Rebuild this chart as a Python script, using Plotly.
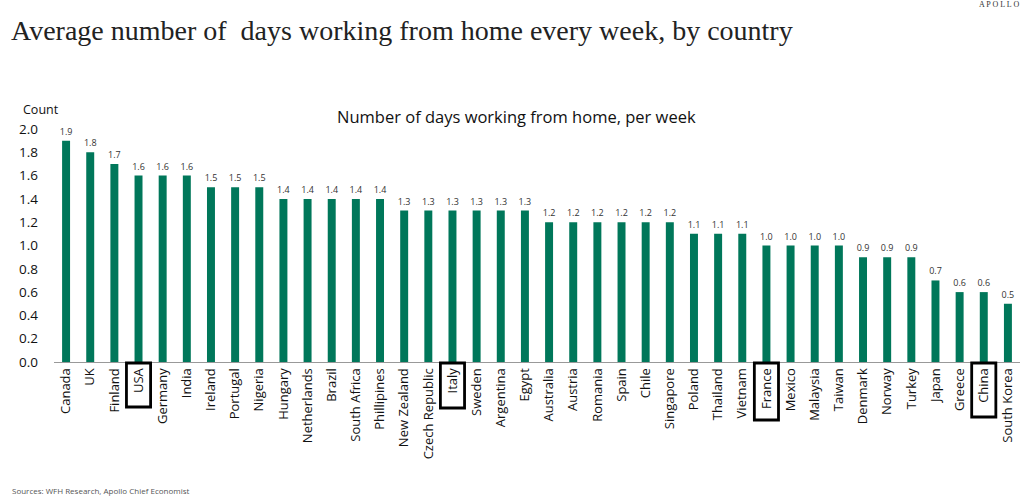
import plotly.graph_objects as go

countries = ["Canada", "UK", "Finland", "USA", "Germany", "India", "Ireland", "Portugal",
             "Nigeria", "Hungary", "Netherlands", "Brazil", "South Africa", "Phillipines",
             "New Zealand", "Czech Republic", "Italy", "Sweden", "Argentina", "Egypt",
             "Australia", "Austria", "Romania", "Spain", "Chile", "Singapore", "Poland",
             "Thailand", "Vietnam", "France", "Mexico", "Malaysia", "Taiwan", "Denmark",
             "Norway", "Turkey", "Japan", "Greece", "China", "South Korea"]
days = [1.9, 1.8, 1.7, 1.6, 1.6, 1.6, 1.5, 1.5, 1.5, 1.4, 1.4, 1.4, 1.4, 1.4,
        1.3, 1.3, 1.3, 1.3, 1.3, 1.3, 1.2, 1.2, 1.2, 1.2, 1.2, 1.2, 1.1, 1.1, 1.1,
        1.0, 1.0, 1.0, 1.0, 0.9, 0.9, 0.9, 0.7, 0.6, 0.6, 0.5]
highlighted = ["USA", "Italy", "France", "China"]
y_ticks = [0.0, 0.2, 0.4, 0.6, 0.8, 1.0, 1.2, 1.4, 1.6, 1.8, 2.0]

GREEN = "#00775A"
W, H = 1024, 498
L, R, T, B = 54, 4, 129, 136
ph = H - T - B
pw = W - L - R

def py(p):  # pixel y -> paper y
    return (H - B - p) / ph

def px(p):
    return (p - L) / pw

fig = go.Figure(go.Bar(
    x=countries, y=days, marker_color=GREEN, marker_line_width=0,
    text=[f"{v:.1f}" for v in days], textposition="outside",
    textfont=dict(size=9, color="#333333", family="Open Sans"),
    constraintext="none",
    cliponaxis=False,
))

# boxes around highlighted tick labels (box depth below axis, px)
box_depth = {"USA": 45, "Italy": 46, "France": 58, "China": 55}
for name in highlighted:
    i = countries.index(name)
    fig.add_shape(type="rect", xref="x", yref="paper",
                  x0=i - 0.5, x1=i + 0.5, y0=py(H - B + 1), y1=py(H - B + box_depth[name]),
                  line=dict(color="black", width=2.8))

fig.update_layout(
    width=W, height=H,
    margin=dict(l=L, r=R, t=T, b=B),
    plot_bgcolor="white", paper_bgcolor="white",
    bargap=0.67, showlegend=False,
    font=dict(family="Open Sans", color="#222222"),
    xaxis=dict(tickangle=-90, tickfont=dict(size=13, color="#111111"),
               showline=True, linecolor="#999999", linewidth=1,
               ticks="", range=[-0.5, len(countries) - 0.5]),
    yaxis=dict(range=[0, 2.0], tickvals=y_ticks, tickformat=".1f",
               tickfont=dict(size=13.5, color="#111111"),
               showgrid=False, zeroline=False, showline=False, ticks="",
               ticklabelstandoff=15),
    annotations=[
        dict(text="Average number of  days working from home every week, by country",
             xref="paper", yref="paper", x=px(9), y=py(30), xanchor="left", yanchor="middle",
             showarrow=False, font=dict(family="Liberation Serif", size=28, color="#222222")),
        dict(text="A P O L L O", xref="paper", yref="paper", x=px(1021), y=py(5),
             xanchor="right", yanchor="middle", showarrow=False,
             font=dict(family="Liberation Serif", size=8, color="#333333")),
        dict(text="Number of days working from home, per week", xref="paper", yref="paper",
             x=px(516), y=py(116), xanchor="center", yanchor="middle", showarrow=False,
             font=dict(size=16.5, color="#111111")),
        dict(text="Count", xref="paper", yref="paper", x=px(41), y=py(110),
             xanchor="center", yanchor="middle", showarrow=False,
             font=dict(size=12.5, color="#111111")),
        dict(text="Sources: WFH Research, Apollo Chief Economist", xref="paper", yref="paper",
             x=px(10), y=py(491), xanchor="left", yanchor="middle", showarrow=False,
             font=dict(size=8, color="#555555")),
    ],
)

fig.write_html("out.html", config={"displayModeBar": False},
               post_script="document.body.style.margin='0';document.body.style.overflow='hidden';")
